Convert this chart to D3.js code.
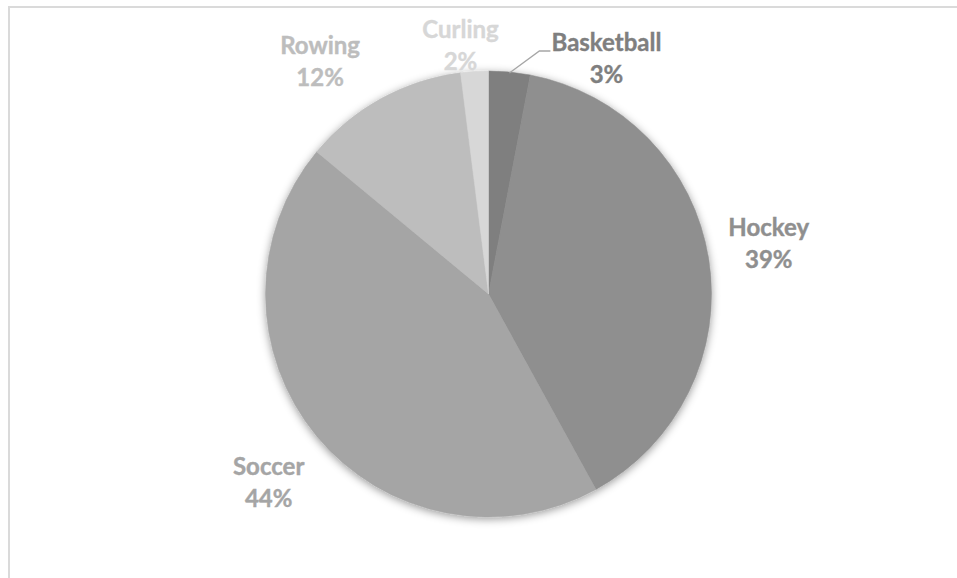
<!DOCTYPE html>
<html>
<head>
<meta charset="utf-8">
<script src="https://cdn.jsdelivr.net/npm/d3@7/dist/d3.min.js"></script>
<style>
  html, body { margin: 0; padding: 0; background: #ffffff; }
  svg { display: block; }
  .lbl { font-family: Lato, "Open Sans", sans-serif; font-weight: 700; }
</style>
</head>
<body>
<svg id="chart" width="957" height="578"></svg>
<script>
// Share of athletes by sport (percent)
const sports = ["Basketball", "Hockey", "Soccer", "Rowing", "Curling"];
const shares = [3, 39, 44, 12, 2];
const sliceColors = ["#7f7f7f", "#8f8f8f", "#a5a5a5", "#bdbdbd", "#d7d7d7"];

// Label placement relative to each slice's outer edge at its mid-angle
const labelShift = [[97, -13], [60, -15], [-48, 47], [-61, -37], [-14, -25]];

const W = 957, H = 578;
const cx = 488.5, cy = 294, R = 223;
const fontSize = 24, lineGap = 32;

const svg = d3.select("#chart");

// Chart-area frame
svg.append("rect")
  .attr("x", 9).attr("y", 7)
  .attr("width", W + 20).attr("height", H + 20)
  .attr("fill", "none")
  .attr("stroke", "#dadada")
  .attr("stroke-width", 2);

// Soft shadow around the pie
const defs = svg.append("defs");
const f = defs.append("filter").attr("id", "pieShadow")
  .attr("x", "-20%").attr("y", "-20%").attr("width", "140%").attr("height", "140%");
f.append("feDropShadow")
  .attr("dx", 0).attr("dy", 2)
  .attr("stdDeviation", 4.5)
  .attr("flood-color", "#000")
  .attr("flood-opacity", 0.4);

const data = sports.map((s, i) => ({ sport: s, value: shares[i], color: sliceColors[i], shift: labelShift[i] }));

const pie = d3.pie().sort(null).value(d => d.value);
const arcs = pie(data);
const arc = d3.arc().innerRadius(0).outerRadius(R);

const g = svg.append("g").attr("transform", `translate(${cx},${cy})`);

g.append("g").attr("filter", "url(#pieShadow)")
  .selectAll("path")
  .data(arcs)
  .enter().append("path")
  .attr("d", arc)
  .attr("fill", d => d.data.color)
  .attr("stroke", d => d.data.color)
  .attr("stroke-width", 0.5);

// Point on the outer edge at the slice's mid-angle
function edgePoint(d, r) {
  const a = (d.startAngle + d.endAngle) / 2;
  return [Math.sin(a) * r, -Math.cos(a) * r];
}

const labels = g.append("g");
arcs.forEach(d => {
  const [ex, ey] = edgePoint(d, R);
  const lx = ex + d.data.shift[0];
  const ly = ey + d.data.shift[1];
  const t = labels.append("text")
    .attr("class", "lbl")
    .attr("text-anchor", "middle")
    .attr("font-size", fontSize)
    .attr("fill", d.data.color)
    .attr("stroke", d.data.color)
    .attr("stroke-width", 0.4);
  t.append("tspan").attr("x", lx).attr("y", ly - lineGap / 2 + 8).text(d.data.sport);
  t.append("tspan").attr("x", lx).attr("y", ly + lineGap / 2 + 8).text(d.data.value + "%");
});

// Leader line for the narrow Basketball slice
const bb = arcs[0];
const [bx, by] = edgePoint(bb, R - 1);
const elbowY = by - 22;
const leader = d3.line()([[bx, by], [bx + 30, elbowY], [bx + 41, elbowY]]);
g.append("path")
  .attr("d", leader)
  .attr("fill", "none")
  .attr("stroke", "#a6a6a6")
  .attr("stroke-width", 1.3);
</script>
</body>
</html>
